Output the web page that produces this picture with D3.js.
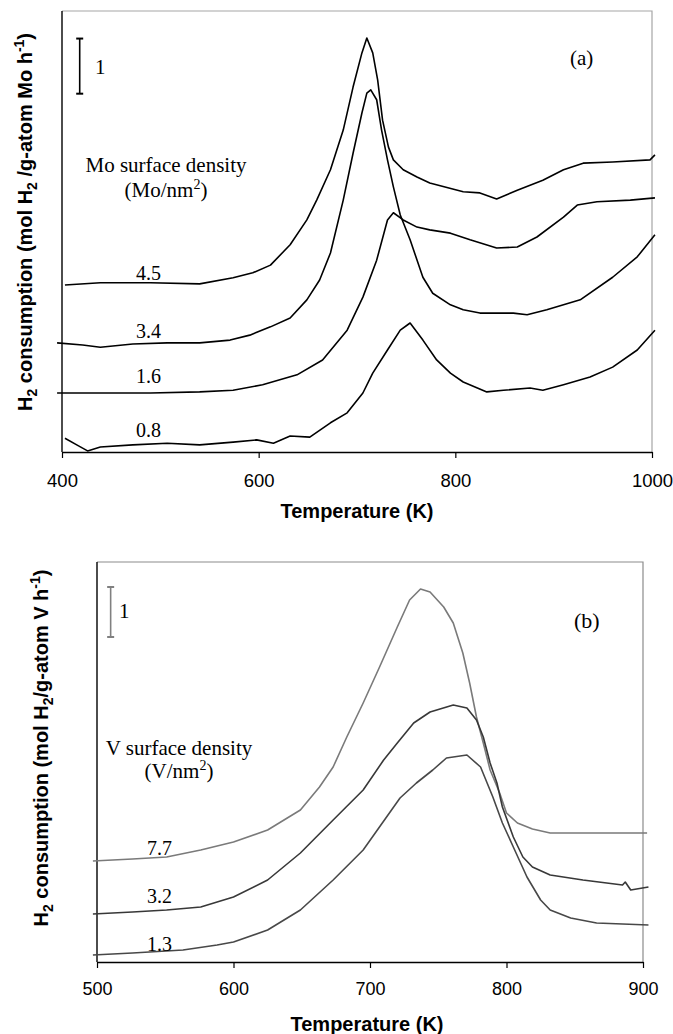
<!DOCTYPE html>
<html>
<head>
<meta charset="utf-8">
<script src="https://cdn.jsdelivr.net/npm/d3@7"></script>
<style>
  body { margin: 0; background: #fff; }
  svg { display: block; }
  .sans { font-family: Arial, "Liberation Sans", sans-serif; }
  .serif { font-family: "Times New Roman", "Liberation Serif", serif; }
</style>
</head>
<body>
<div id="chart"></div>
<script>
// ---- panel (a): Mo surface density (Mo/nm2) ----
var moTicks = [400, 600, 800, 1000];

var mo45Temp = [403, 439, 490, 540, 574, 594, 612, 632, 649, 659, 673, 686, 696, 705, 710, 716, 721, 726, 732, 737, 747, 761, 774, 808, 825, 842, 863, 889, 910, 930, 960, 998, 1003];
var mo45Val  = [3.03, 3.07, 3.07, 3.05, 3.16, 3.25, 3.39, 3.76, 4.21, 4.57, 5.12, 5.84, 6.62, 7.24, 7.51, 7.24, 6.75, 6.02, 5.53, 5.30, 5.12, 4.99, 4.88, 4.72, 4.70, 4.59, 4.75, 4.93, 5.12, 5.24, 5.26, 5.30, 5.39];

var mo34Temp = [395, 421, 439, 472, 507, 540, 571, 591, 612, 632, 649, 662, 673, 686, 696, 705, 710, 714, 720, 725, 731, 737, 744, 754, 767, 777, 795, 808, 825, 859, 873, 893, 927, 960, 985, 1003];
var mo34Val  = [1.98, 1.94, 1.90, 1.96, 1.98, 1.98, 2.03, 2.12, 2.27, 2.43, 2.76, 3.12, 3.61, 4.57, 5.42, 6.15, 6.51, 6.57, 6.39, 5.84, 5.30, 4.81, 4.30, 3.85, 3.17, 2.88, 2.67, 2.58, 2.52, 2.52, 2.49, 2.58, 2.76, 3.17, 3.54, 3.94];

var mo16Temp = [395, 439, 490, 540, 574, 604, 639, 665, 690, 706, 720, 731, 737, 747, 761, 774, 795, 815, 842, 863, 883, 910, 924, 944, 978, 1003];
var mo16Val  = [1.07, 1.07, 1.07, 1.09, 1.12, 1.22, 1.40, 1.67, 2.21, 2.81, 3.48, 4.21, 4.34, 4.21, 4.08, 4.03, 3.97, 3.85, 3.70, 3.72, 3.90, 4.26, 4.48, 4.54, 4.57, 4.61];

var mo08Temp = [403, 415, 426, 439, 472, 507, 540, 574, 598, 615, 632, 652, 673, 690, 706, 716, 731, 744, 754, 767, 781, 795, 808, 832, 849, 876, 889, 910, 937, 960, 985, 1003];
var mo08Val  = [0.25, 0.13, 0.02, 0.09, 0.13, 0.16, 0.13, 0.18, 0.22, 0.16, 0.29, 0.27, 0.53, 0.71, 1.07, 1.43, 1.85, 2.21, 2.34, 2.03, 1.67, 1.43, 1.27, 1.09, 1.12, 1.16, 1.12, 1.22, 1.36, 1.54, 1.85, 2.21];

var moLabels = ["4.5", "3.4", "1.6", "0.8"];

// ---- panel (b): V surface density (V/nm2) ----
var vTicks = [500, 600, 700, 800, 900];

var v77Temp = [497, 526, 551, 576, 600, 625, 649, 663, 673, 683, 695, 707, 720, 729, 737, 744, 754, 761, 768, 773, 778, 783, 788, 795, 800, 808, 819, 832, 854, 903];
var v77Val  = [2.02, 2.06, 2.10, 2.24, 2.40, 2.64, 3.04, 3.50, 3.90, 4.50, 5.18, 5.90, 6.70, 7.24, 7.46, 7.40, 7.10, 6.78, 6.18, 5.58, 4.90, 4.38, 3.84, 3.38, 2.98, 2.78, 2.66, 2.58, 2.58, 2.58];

var v32Temp = [497, 526, 551, 576, 600, 625, 649, 673, 695, 710, 720, 732, 744, 761, 771, 778, 783, 788, 793, 797, 805, 812, 819, 832, 856, 885, 887, 891, 904];
var v32Val  = [0.96, 1.00, 1.04, 1.10, 1.30, 1.64, 2.18, 2.84, 3.44, 4.04, 4.38, 4.78, 5.00, 5.14, 5.08, 4.84, 4.50, 3.98, 3.58, 3.10, 2.50, 2.10, 1.90, 1.74, 1.64, 1.54, 1.60, 1.44, 1.50];

var v13Temp = [497, 526, 563, 588, 600, 625, 649, 673, 695, 722, 734, 746, 756, 771, 781, 790, 797, 805, 815, 825, 832, 847, 866, 904];
var v13Val  = [0.14, 0.18, 0.24, 0.34, 0.40, 0.64, 1.04, 1.64, 2.24, 3.28, 3.58, 3.84, 4.08, 4.14, 3.90, 3.30, 2.78, 2.30, 1.70, 1.24, 1.04, 0.88, 0.78, 0.74];

var vLabels = ["7.7", "3.2", "1.3"];

function zipCurve(t, v) {
    return t.map(function (d, i) { return { t: d, v: v[i] }; });
}

var svg = d3.select("#chart")
    .append("svg")
    .attr("width", 673)
    .attr("height", 1034)
    .style("background-color", "#fff");

// rotated y title with sub / superscripts
function yTitle(x, y, parts) {
    var t = svg.append("text")
        .attr("class", "sans")
        .attr("transform", "translate(" + x + "," + y + ") rotate(-90)")
        .attr("text-anchor", "middle")
        .style("font-size", "20px")
        .style("font-weight", "bold");
    var shift = 0;
    parts.forEach(function (p) {
        var target = p[1] === "sub" ? 5 : (p[1] === "sup" ? -8 : 0);
        t.append("tspan")
            .attr("dy", target - shift)
            .style("font-size", p[1] ? "14px" : "20px")
            .text(p[0]);
        shift = target;
    });
}

function drawPanel(cfg) {
    var x = d3.scaleLinear().domain(cfg.xDomain).range([0, cfg.width]);
    var y = d3.scaleLinear().domain([0, 8]).range([cfg.height, 0]);

    var g = svg.append("g")
        .attr("transform", "translate(" + cfg.left + "," + cfg.top + ")");

    // grey frame on top and right
    g.append("path")
        .attr("d", "M0,0H" + cfg.width + "V" + cfg.height)
        .attr("fill", "none")
        .attr("stroke", cfg.frame)
        .attr("stroke-width", 1.2);

    // Dodavanje osi X
    var xAxis = d3.axisBottom(x).tickValues(cfg.ticks).tickSize(6).tickSizeOuter(0).tickFormat(d3.format("d"));
    var ax = g.append("g")
        .attr("transform", "translate(0," + cfg.height + ")")
        .call(xAxis);
    ax.select(".domain").attr("stroke", "#000").attr("stroke-width", 1.4);
    ax.selectAll(".tick line").attr("stroke", "#000").attr("stroke-width", 1.2);
    ax.selectAll("text")
        .attr("class", "sans")
        .attr("y", cfg.tickY)
        .attr("dy", "0")
        .attr("fill", "#000")
        .style("font-family", "Arial, 'Liberation Sans', sans-serif")
        .style("font-size", cfg.tickFont + "px");

    // y axis: plain line, no ticks
    g.append("line")
        .attr("x1", 0).attr("x2", 0)
        .attr("y1", 0).attr("y2", cfg.height)
        .attr("stroke", "#000")
        .attr("stroke-width", 1.4);

    var line = d3.line()
        .x(function (d) { return x(d.t); })
        .y(function (d) { return y(d.v); });

    cfg.curves.forEach(function (c) {
        g.append("path")
            .datum(c.data)
            .attr("fill", "none")
            .attr("stroke", c.color)
            .attr("stroke-width", 1.6)
            .attr("stroke-linejoin", "round")
            .attr("d", line);
    });

    // scale bar of 1 unit
    var bx = x(cfg.barT);
    g.append("line")
        .attr("x1", bx).attr("x2", bx)
        .attr("y1", y(6.5)).attr("y2", y(7.5))
        .attr("stroke", cfg.barColor).attr("stroke-width", 1.6);
    [6.5, 7.5].forEach(function (v) {
        g.append("line")
            .attr("x1", bx - 3.5).attr("x2", bx + 3.5)
            .attr("y1", y(v)).attr("y2", y(v))
            .attr("stroke", cfg.barColor).attr("stroke-width", 2);
    });

    return { x: x, y: y, g: g };
}

function serifText(x, y, txt, size) {
    return svg.append("text")
        .attr("class", "serif")
        .attr("x", x)
        .attr("y", y)
        .style("font-size", size + "px")
        .text(txt);
}

function densityLabel(cx, y1, y2, first, unit) {
    serifText(cx, y1, first, 21).attr("text-anchor", "middle");
    var t = svg.append("text")
        .attr("class", "serif")
        .attr("x", cx)
        .attr("y", y2)
        .attr("text-anchor", "middle")
        .style("font-size", "21px");
    t.append("tspan").text("(" + unit + "/nm");
    t.append("tspan").attr("dy", -8).style("font-size", "14px").text("2");
    t.append("tspan").attr("dy", 8).text(")");
}

// ---------- panel (a) ----------
drawPanel({
    left: 62, top: 11, width: 590, height: 441,
    xDomain: [400, 1000], ticks: moTicks, tickY: 35, tickFont: 18.5,
    frame: "#a6a6a6", barColor: "#000", barT: 418,
    curves: [
        { data: zipCurve(mo45Temp, mo45Val), color: "#000" },
        { data: zipCurve(mo34Temp, mo34Val), color: "#000" },
        { data: zipCurve(mo16Temp, mo16Val), color: "#000" },
        { data: zipCurve(mo08Temp, mo08Val), color: "#000" }
    ]
});

serifText(95, 74, "1", 21);
serifText(570, 65, "(a)", 21);
densityLabel(166, 172, 197, "Mo surface density", "Mo");

var moLabelY = [280, 338, 383, 437];
moLabels.forEach(function (s, i) {
    serifText(136, moLabelY[i], s, 20);
});

svg.append("text")
    .attr("class", "sans")
    .attr("x", 357)
    .attr("y", 518)
    .attr("text-anchor", "middle")
    .style("font-size", "20px")
    .style("font-weight", "bold")
    .text("Temperature (K)");

yTitle(32, 222, [["H", null], ["2", "sub"], [" consumption (mol H", null], ["2", "sub"], [" /g-atom Mo h", null], ["-1", "sup"], [")", null]]);

// ---------- panel (b) ----------
drawPanel({
    left: 97, top: 562, width: 546, height: 400,
    xDomain: [500, 900], ticks: vTicks, tickY: 33, tickFont: 18,
    frame: "#8c8c8c", barColor: "#808080", barT: 510,
    curves: [
        { data: zipCurve(v77Temp, v77Val), color: "#7a7a7a" },
        { data: zipCurve(v32Temp, v32Val), color: "#383838" },
        { data: zipCurve(v13Temp, v13Val), color: "#484848" }
    ]
});

serifText(119, 618, "1", 21);
serifText(574, 628, "(b)", 22);
densityLabel(179, 755, 778, "V surface density", "V");

var vLabelY = [855, 903, 951];
vLabels.forEach(function (s, i) {
    serifText(147, vLabelY[i], s, 20);
});

svg.append("text")
    .attr("class", "sans")
    .attr("x", 367)
    .attr("y", 1031)
    .attr("text-anchor", "middle")
    .style("font-size", "20px")
    .style("font-weight", "bold")
    .text("Temperature (K)");

yTitle(48, 748, [["H", null], ["2", "sub"], [" consumption (mol H", null], ["2", "sub"], ["/g-atom V h", null], ["-1", "sup"], [")", null]]);
</script>
</body>
</html>
